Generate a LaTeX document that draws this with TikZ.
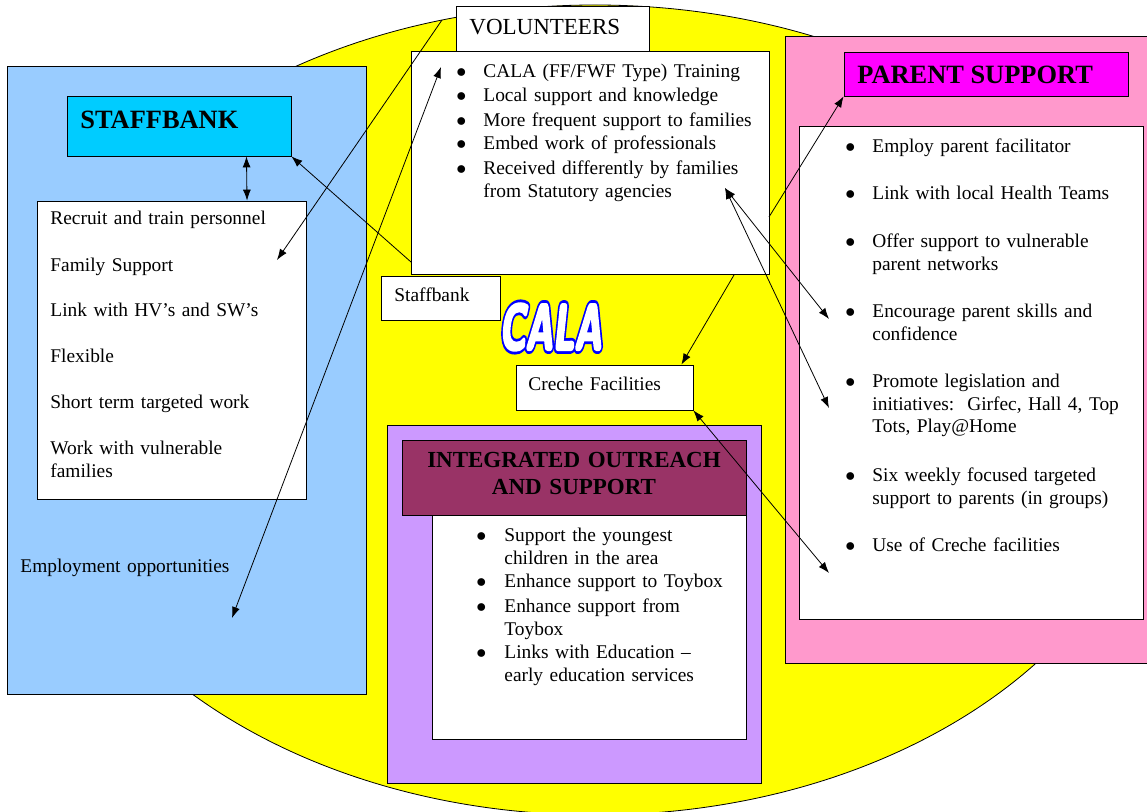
\documentclass[tikz,border=0pt]{standalone}
\usepackage{fontspec}
\setmainfont{Liberation Serif}
\usetikzlibrary{positioning,calc,fit,arrows,arrows.meta}

\definecolor{calaYellow}{HTML}{FFFF00}
\definecolor{staffBlue}{HTML}{99CCFF}
\definecolor{staffHead}{HTML}{00CCFF}
\definecolor{parentPink}{HTML}{FF99CC}
\definecolor{parentHead}{HTML}{FF00FF}
\definecolor{outreachLilac}{HTML}{CC99FF}
\definecolor{outreachHead}{HTML}{993366}

\newcommand\listfont{\fontsize{9.7}{11.25}\selectfont}
\newcommand\headfont{\fontsize{13.2}{15}\selectfont\bfseries}
% outlined lettering: stroke width, stroke colour, fill colour
\newcommand\calaword[3]{\special{pdf:literal direct 2 Tr #1 w 1 j #2 RG #3 rg}CALA\special{pdf:literal direct 0 Tr}}

\tikzset{
  box/.style={draw, inner sep=0pt, fit={#1}},
  item/.style={anchor=base west, inner sep=0pt, text width=165pt, align=left, font=\listfont},
  dot/.style={anchor=base west, inner sep=0pt, font=\listfont},
  calatxt/.style={inner sep=0pt, font=\fontsize{32}{32}\selectfont\sffamily\bfseries, xscale=0.58, xslant=0.18},
}

\begin{document}
\begin{tikzpicture}[x=0.5pt,y=-0.5pt,>={Latex[length=5.5pt,width=4pt]}]
            \useasboundingbox (0,0) rectangle (1147,812);
            % background
            \draw[fill=calaYellow] (595,410) ellipse [x radius=282.5pt, y radius=202.5pt];

            % staffbank
            \node[box={(7,66) (366,694)}, fill=staffBlue] (sbOuter) {};
            \node[box={(67,96) (291,156)}, fill=staffHead] (sbHead) {};
            \node[anchor=base west, inner sep=0pt, font=\headfont] (sbTitle) at (80,129) {STAFFBANK};
            \node[box={(37,201) (306,499)}, fill=white] (sbList) {};
            \foreach \y/\t [count=\i] in {225/{Recruit and train personnel}, 272/{Family Support},
                317/{Link with HV’s and SW’s}, 363/{Flexible}, 409/{Short term targeted work},
                455/{Work with vulnerable\\families}}
              \node[item] (sbItem\i) at (50,\y) {\t};
            \node[item] (sbJobs) at (20,573) {Employment opportunities};

            % parent support
            \node[box={(785,36) (1147,663)}, fill=parentPink] (psOuter) {};
            \node[box={(844,52) (1128,96)}, fill=parentHead] (psHead) {};
            \node[anchor=base west, inner sep=0pt, font=\headfont] (psTitle) at (857,84) {PARENT SUPPORT};
            \node[box={(799,126) (1143,619)}, fill=white] (psList) {};
            \foreach \y/\t [count=\i] in {153/{Employ parent facilitator}, 200/{Link with local Health Teams},
                248/{Offer support to vulnerable\\parent networks}, 318/{Encourage parent skills and\\confidence},
                388/{Promote legislation and\\initiatives:\ \ Girfec, Hall 4, Top\\Tots, Play@Home},
                482/{Six weekly focused targeted\\support to parents (in groups)}, 552/{Use of Creche facilities}}
            {
              \node[dot] (psDot\i) at (845,\y) {$\bullet$};
              \node[item] (psItem\i) at (872,\y) {\t};
            }

            % integrated outreach
            \node[box={(387,425) (761,783)}, fill=outreachLilac] (ioOuter) {};
            \node[box={(402,440) (746,515)}, fill=outreachHead] (ioHead) {};
            \node[anchor=base, inner sep=0pt, text width=190pt, align=center,
                  font=\fontsize{11.5}{13.5}\selectfont\bfseries] (ioTitle) at (574,468) {INTEGRATED OUTREACH\\AND SUPPORT};
            \node[box={(432,515) (746,739)}, fill=white] (ioList) {};
            \foreach \y/\t [count=\i] in {542/{Support the youngest\\children in the area}, 588/{Enhance support to Toybox},
                613/{Enhance support from\\Toybox}, 659/{Links with Education –\\early education services}}
            {
              \node[dot] (ioDot\i) at (476,\y) {$\bullet$};
              \node[item] (ioItem\i) at (504,\y) {\t};
            }

            % volunteers
            \node[box={(456,6) (649,51)}, fill=white] (volHead) {};
            \node[anchor=base west, inner sep=0pt, font=\fontsize{11.5}{13}\selectfont] (volTitle) at (469,35) {VOLUNTEERS};
            \node[box={(411,51) (769,274)}, fill=white] (volList) {};
            \foreach \y/\t [count=\i] in {78/{CALA (FF/FWF Type) Training}, 102/{Local support and knowledge},
                127/{More frequent support to families}, 150/{Embed work of professionals},
                175/{Received differently by families\\from Statutory agencies}}
            {
              \node[dot] (volDot\i) at (456,\y) {$\bullet$};
              \node[item] (volItem\i) at (483,\y) {\t};
            }

            % small boxes
            \node[box={(381,276) (500,320)}, fill=white] (sbSmall) {};
            \node[item] (sbSmallTxt) at (394,302) {Staffbank};
            \node[box={(516,365) (693,410)}, fill=white] (creche) {};
            \node[item] (crecheTxt) at (528,391) {Creche Facilities};

            % CALA logo
            \coordinate (calaPos) at (553,327);
            \node[calatxt] (calaRim) at (calaPos) {\calaword{4.6}{0 0 1}{0 0 1}};
            \node[calatxt] (cala) at (calaPos) {\calaword{1.8}{1 1 1}{1 1 1}};

            % connectors
            \coordinate (volEdge) at (442,20);
            \coordinate (famSpot) at (277,260);
            \coordinate (volTopSpot) at (441,67);
            \coordinate (jobSpot) at (232,618);
            \coordinate (volFoot) at (411,262);
            \coordinate (volSide) at (769,217);
            \coordinate (volBase) at (734,275);
            \coordinate (recvSpot) at (725,188);
            \coordinate (skillSpot) at (829,319);
            \coordinate (lawSpot) at (829,408);
            \coordinate (crecheSpot) at (829,573);
            \draw[<->] ($(sbHead.south west)!.8!(sbHead.south east)$) -- ($(sbList.north west)!.78!(sbList.north east)$);
            \draw[->] (volFoot) -- (sbHead.south east);
            \draw[->] (volEdge) -- (famSpot);
            \draw[<->] (volTopSpot) -- (jobSpot);
            \draw[->] (volSide) -- (psHead.south west);
            \draw[<->] (recvSpot) -- (skillSpot);
            \draw[<->] (recvSpot) -- (lawSpot);
            \draw[->] (volBase) -- ([xshift=-6pt]creche.north east);
            \draw[<->] (creche.south east) -- (crecheSpot);
        \end{tikzpicture}
\end{document}
